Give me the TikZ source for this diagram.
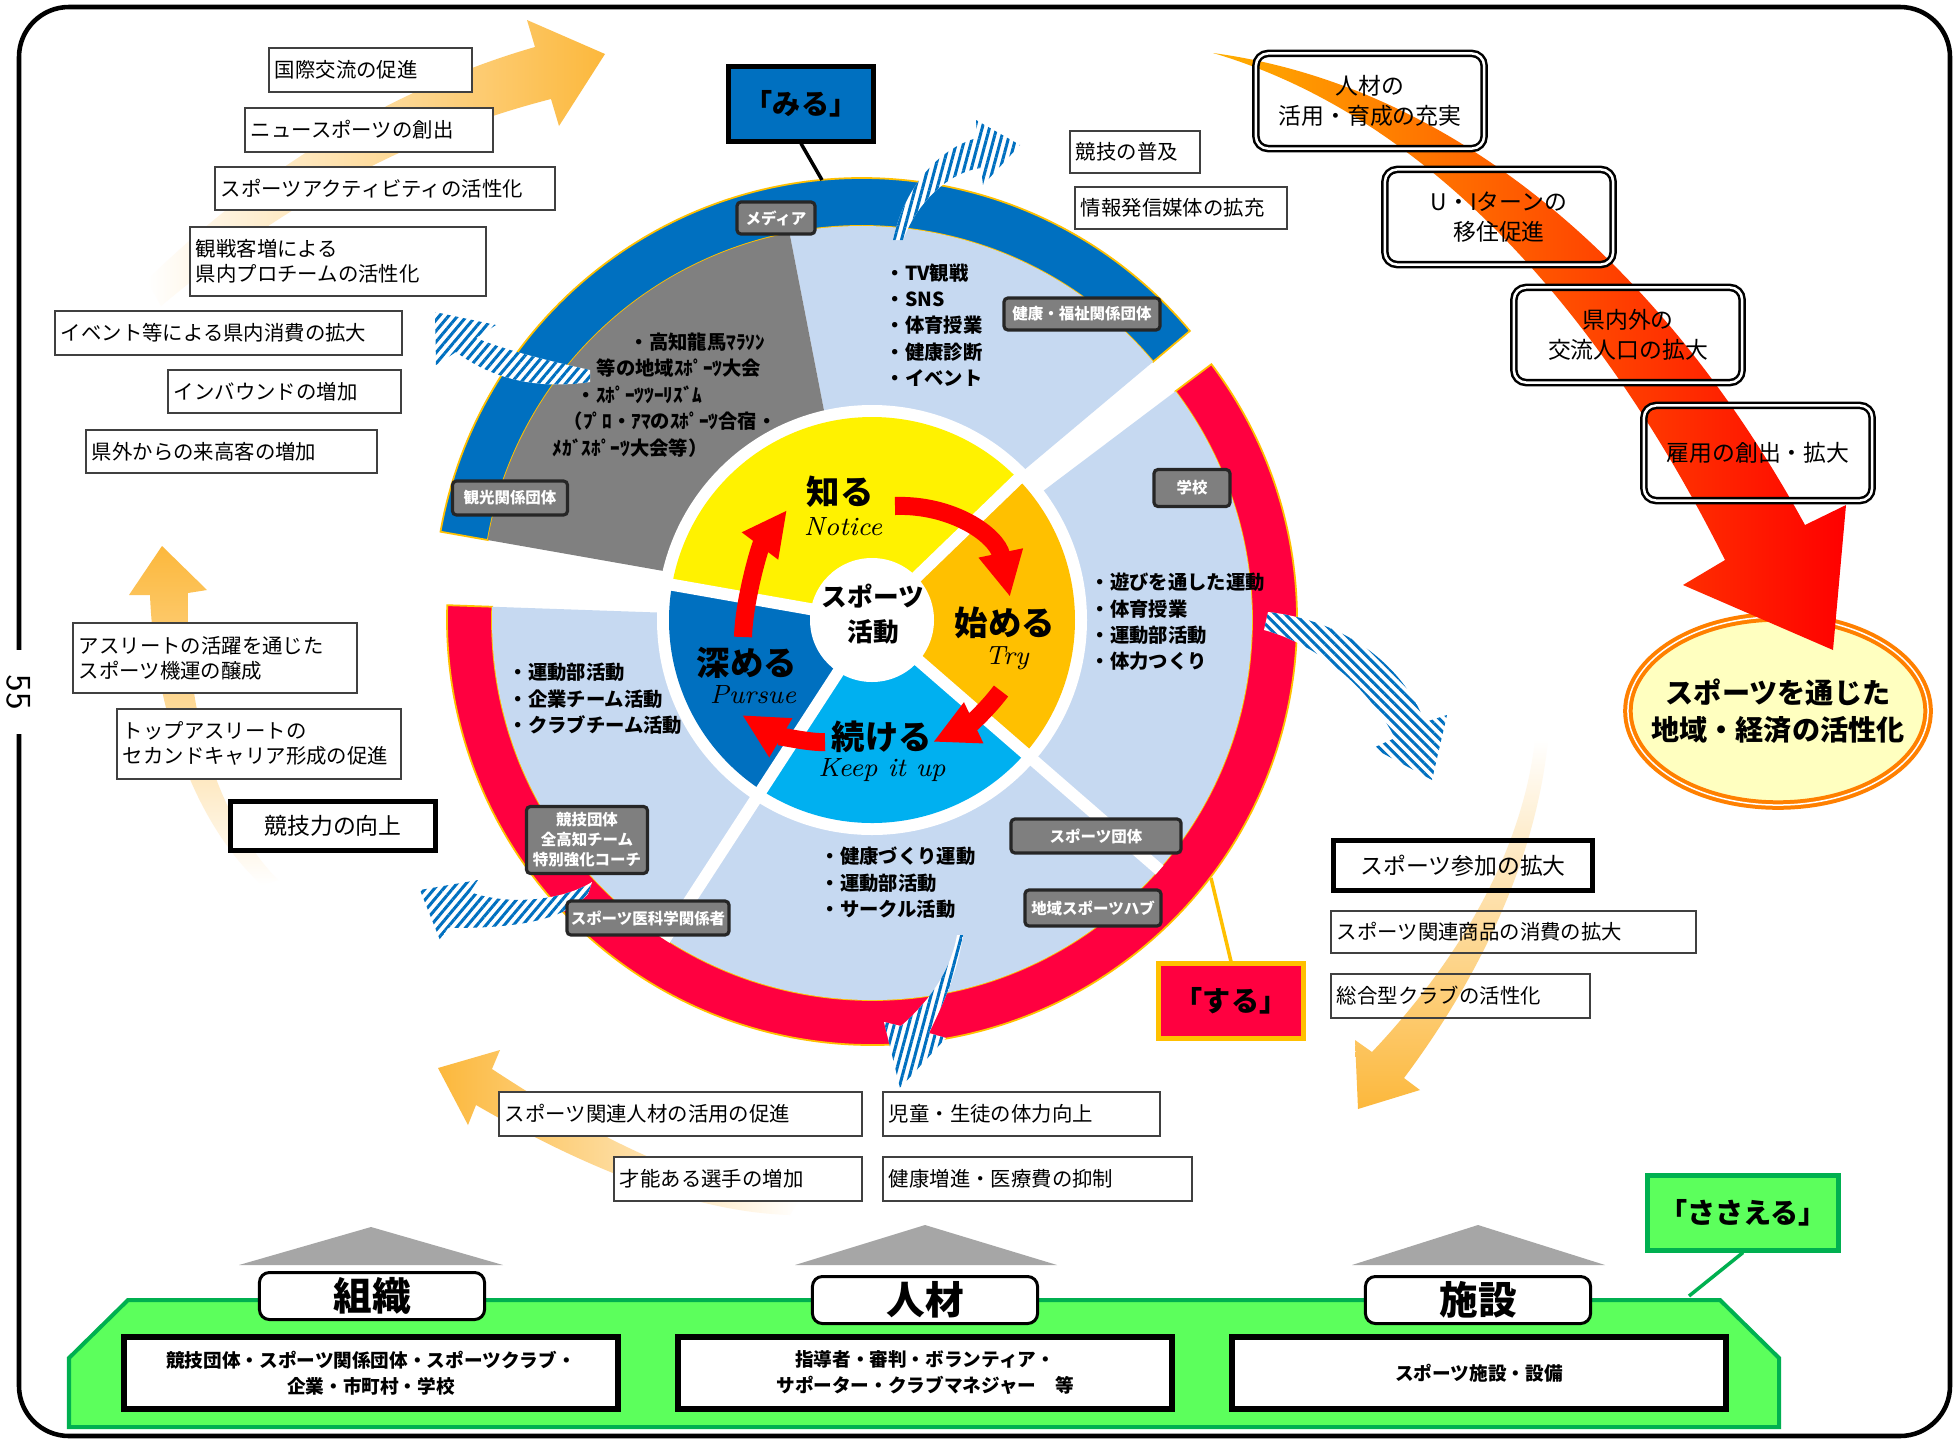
\documentclass[tikz,border=0pt]{standalone}
\usepackage{fontspec}
\newfontfamily\jp{Noto Sans CJK JP}
\usetikzlibrary{arrows.meta,positioning,shapes.geometric,patterns.meta}

\definecolor{miruBlue}{HTML}{0070C0}
\definecolor{paleBlue}{HTML}{C6D9F1}
\definecolor{suruRed}{HTML}{FF0040}
\definecolor{gold}{HTML}{FFC000}
\definecolor{skyCyan}{HTML}{00B0F0}
\definecolor{labelGray}{HTML}{7F7F7F}
\definecolor{roofGray}{HTML}{A6A6A6}
\definecolor{sasaeGreen}{HTML}{5CFF5C}
\definecolor{greenEdge}{HTML}{00B050}
\definecolor{fadeOrange}{HTML}{FCB83C}
\definecolor{arrowOrange}{HTML}{FFB000}
\definecolor{ellFill}{HTML}{FFFFC0}
\definecolor{ellEdge}{HTML}{FF8000}

% annular sector: options, start angle, end angle, inner r, outer r
\newcommand{\ringseg}[5]{%
  \path[#1] (#2:#5) arc[start angle=#2,end angle=#3,radius=#5]
    -- (#3:#4) arc[start angle=#3,end angle=#2,radius=#4] -- cycle;}

\tikzset{
  infobox/.style={draw=black!75,fill=white,line width=0.5pt,anchor=north west,
    inner xsep=0.06cm,inner ysep=0pt,align=left,
    font=\jp\fontsize{5.8}{7.1}\selectfont},
  clearbox/.style={infobox,fill=none},
  keybox/.style={draw=black,fill=white,line width=0.05cm,anchor=north west,
    align=center,inner sep=0pt,font=\jp\fontsize{6.5}{8}\selectfont},
  tripbox/.style={draw=black,double=white,double distance=0.025cm,line width=0.025cm,
    rounded corners=0.12cm,align=center,minimum width=2.28cm,minimum height=0.95cm,
    inner sep=0pt,font=\jp\fontsize{6.5}{8.5}\selectfont},
  tagbox/.style={fill=labelGray,draw=black!85,line width=0.9pt,rounded corners=0.04cm,
    text=white,align=center,inner sep=0pt,minimum height=0.32cm,
    font=\jp\bfseries\fontsize{4.4}{5.7}\selectfont},
  sectortext/.style={anchor=west,align=left,inner sep=0pt,
    font=\jp\bfseries\fontsize{5.5}{7.5}\selectfont},
  stagetext/.style={inner sep=0pt,font=\jp\bfseries\fontsize{9.5}{10}\selectfont},
  stagesub/.style={inner sep=0pt,font=\itshape\fontsize{7.5}{8}\selectfont},
  cyclearrow/.style={red,line width=0.18cm,-{Triangle[length=0.45cm,width=0.42cm]}},
  stripe/.style={preaction={fill=white},
    pattern={Lines[angle=#1,distance=0.07cm,line width=0.03cm]},pattern color=miruBlue},
  rolebox/.style={line width=0.05cm,minimum height=0.74cm,inner sep=0pt,
    font=\jp\bfseries\fontsize{8}{9}\selectfont},
  pillarbox/.style={draw=black,fill=white,line width=0.03cm,rounded corners=0.1cm,
    minimum width=2.25cm,minimum height=0.47cm,inner sep=0pt,
    font=\jp\bfseries\fontsize{11}{12}\selectfont},
  basebox/.style={draw=black,fill=white,line width=0.06cm,minimum width=4.93cm,
    minimum height=0.72cm,align=center,inner sep=0pt,
    font=\jp\bfseries\fontsize{5.3}{7.4}\selectfont}
}

\begin{document}
\begin{tikzpicture}[x=0.01cm,y=0.01cm]
\useasboundingbox (0,0) rectangle (1954,-1439);
\fill[white] (0,0) rectangle (1954,-1439);

% frame and page number
\draw[line width=1.3pt,rounded corners=0.5cm] (19,-7) rectangle (1950,-1436);
\node[rotate=-90,fill=white,inner xsep=0.24cm,inner ysep=0.04cm,
  font=\sffamily\fontsize{10}{10}\selectfont] (pageno) at (19,-692) {55};

% faded orange arrows
\shade[left color=white,right color=fadeOrange] (147,-280) .. controls (280,-150) and (420,-80) .. (535,-47)
  -- (527,-20) -- (605,-54) -- (559,-126) -- (551,-99) .. controls (430,-130) and (300,-190) .. (161,-306) -- cycle;
\shade[top color=fadeOrange,bottom color=white] (150,-595) -- (129,-595) -- (162,-546) -- (207,-590) -- (188,-593)
  .. controls (185,-720) and (220,-820) .. (278,-880) -- (262,-885) .. controls (200,-830) and (155,-720) .. (150,-595) -- cycle;
\shade[left color=fadeOrange,right color=white] (492,-1069) .. controls (600,-1140) and (700,-1190) .. (800,-1198)
  -- (790,-1215) .. controls (690,-1212) and (580,-1165) .. (476,-1105) -- (468,-1125) -- (438,-1068) -- (500,-1050) -- cycle;
\shade[top color=white,bottom color=fadeOrange] (1535,-740) .. controls (1520,-870) and (1440,-980) .. (1372,-1052)
  -- (1355,-1040) -- (1358,-1109) -- (1420,-1090) -- (1404,-1078) .. controls (1470,-990) and (1535,-870) .. (1548,-740) -- cycle;

% goal ellipse and red arrow
\node[ellipse,draw=ellEdge,double=white,double distance=0.015cm,line width=0.04cm,fill=ellFill,
  minimum width=3.0cm,minimum height=1.88cm,inner sep=0pt] (goalShape) at (1778,-711) {};
\node[align=center,inner sep=0pt,font=\jp\bfseries\fontsize{8}{10.6}\selectfont]
  (goal) at (goalShape.center) {スポーツを通じた\\地域・経済の活性化};
\shade[left color=arrowOrange,middle color=red,right color=red] (1213,-53) .. controls (1450,-85) and (1660,-260) .. (1805,-525)
  -- (1846,-505) -- (1833,-650) -- (1683,-585) -- (1725,-560) .. controls (1610,-330) and (1440,-120) .. (1213,-53) -- cycle;
\node[tripbox] (talent) at (1370,-101) {人材の\\活用・育成の充実};
\node[tripbox] (uiturn) at (1499,-217) {U・Iターンの\\移住促進};
\node[tripbox] (exchange) at (1628,-335) {県内外の\\交流人口の拡大};
\node[tripbox] (jobs) at (1758,-453) {雇用の創出・拡大};

% the wheel
\begin{scope}[shift={(872,-620)}]
  % する
  \ringseg{fill=suruRed,draw=gold,line width=0.5pt}{37}{-182}{380}{425}
  \ringseg{fill=paleBlue}{37}{-182}{100}{380}
  \draw[white,line width=0.12cm] (-41:200) -- (-41:381) (-123:200) -- (-123:381);
  % みる
  \begin{scope}[shift={(-10,14)}]
    \ringseg{fill=miruBlue,draw=gold,line width=0.5pt}{40}{170}{380}{428}
    \ringseg{fill=paleBlue}{40}{101}{100}{380}
    \ringseg{fill=gray}{101}{170}{100}{380}
  \end{scope}
  \fill[white] (0,0) circle[radius=215];
  % inner cycle
  \ringseg{fill=yellow}{44}{170}{30}{203}
  \ringseg{fill=gold}{-41}{44}{30}{203}
  \ringseg{fill=skyCyan}{-123}{-41}{30}{203}
  \ringseg{fill=miruBlue}{170}{237}{30}{203}
  \draw[white,line width=0.12cm] (0,0) -- (44:205) (0,0) -- (170:205)
    (0,0) -- (-41:205) (0,0) -- (-123:205);
  \fill[white] (0,0) circle[radius=62];
  \draw[cyclearrow] (23,114) .. controls (80,116) and (125,85) .. (138,23);
  \draw[cyclearrow] (129,-71) .. controls (114,-91) and (97,-105) .. (61,-122);
  \draw[cyclearrow] (-47,-122) .. controls (-62,-123) and (-96,-115) .. (-130,-95);
  \draw[cyclearrow] (-129,-17) .. controls (-128,20) and (-112,74) .. (-85,110);
\end{scope}

\node[inner sep=0pt,align=center,font=\jp\bfseries\fontsize{7.3}{10}\selectfont] (hub) at (873,-614) {スポーツ\\活動};
\node[stagetext] (know) at (840,-492) {知る};
\node[stagesub] (knowEn) at (843,-527) {Notice};
\node[stagetext] (start) at (1005,-623) {始める};
\node[stagesub] (startEn) at (1007,-658) {Try};
\node[stagetext] (keep) at (882,-737) {続ける};
\node[stagesub] (keepEn) at (882,-770) {Keep it up};
\node[stagetext] (deepen) at (747,-663) {深める};
\node[stagesub] (deepenEn) at (753,-695) {Pursue};

% sector texts
\node[sectortext] (listWatch) at (885,-325) {・TV観戦\\・SNS\\・体育授業\\・健康診断\\・イベント};
\node[sectortext] (listEvents) at (552,-395) {\hspace*{0.77cm}・高知龍馬ﾏﾗｿﾝ\\\hspace*{0.44cm}等の地域ｽﾎﾟｰﾂ大会\\\hspace*{0.24cm}・ｽﾎﾟｰﾂﾂｰﾘｽﾞﾑ\\\hspace*{0.11cm}（ﾌﾟﾛ・ｱﾏのｽﾎﾟｰﾂ合宿・\\ﾒｶﾞｽﾎﾟｰﾂ大会等）};
\node[sectortext] (listPlay) at (1090,-622) {・遊びを通した運動\\・体育授業\\・運動部活動\\・体力つくり};
\node[sectortext] (listLife) at (820,-883) {・健康づくり運動\\・運動部活動\\・サークル活動};
\node[sectortext] (listTeam) at (508,-699) {・運動部活動\\・企業チーム活動\\・クラブチーム活動};

% striped arrows
\path[stripe=75] (893,-240) .. controls (905,-185) and (940,-148) .. (977,-138) -- (976,-120) -- (1020,-145)
  -- (983,-185) -- (981,-168) .. controls (950,-172) and (918,-200) .. (903,-240) -- cycle;
\path[stripe=50] (590,-370) .. controls (545,-360) and (505,-350) .. (476,-338) -- (496,-325) -- (435,-312)
  -- (436,-365) -- (456,-352) .. controls (500,-385) and (550,-388) .. (590,-382) -- cycle;
\path[stripe=-45] (1268,-612) .. controls (1340,-620) and (1400,-660) .. (1425,-722) -- (1447,-715) -- (1432,-780)
  -- (1373,-748) -- (1395,-738) .. controls (1370,-690) and (1320,-645) .. (1264,-630) -- cycle;
\path[stripe=75] (957,-935) .. controls (950,-975) and (925,-1005) .. (901,-1026) -- (884,-1022) -- (900,-1088)
  -- (946,-1038) -- (929,-1033) .. controls (945,-1000) and (958,-970) .. (963,-935) -- cycle;
\path[stripe=50] (592,-882) .. controls (560,-902) and (505,-905) .. (470,-892) -- (478,-880) -- (420,-890)
  -- (440,-940) -- (448,-928) .. controls (500,-928) and (560,-925) .. (588,-894) -- cycle;

% stakeholder tags
\node[tagbox,minimum width=0.78cm] (tagMedia) at (776,-218) {メディア};
\node[tagbox,minimum width=1.56cm] (tagHealth) at (1082,-314) {健康・福祉関係団体};
\node[tagbox,minimum width=1.15cm,minimum height=0.34cm] (tagTourism) at (510,-498) {観光関係団体};
\node[tagbox,minimum width=0.76cm,minimum height=0.37cm] (tagSchool) at (1192,-488) {学校};
\node[tagbox,minimum width=1.7cm,minimum height=0.34cm] (tagSportsOrg) at (1096,-836) {スポーツ団体};
\node[tagbox,minimum width=1.36cm,minimum height=0.36cm] (tagHub) at (1093,-908) {地域スポーツハブ};
\node[tagbox,minimum width=1.21cm,minimum height=0.67cm] (tagCoach) at (587,-840) {競技団体\\全高知チーム\\特別強化コーチ};
\node[tagbox,minimum width=1.62cm,minimum height=0.34cm] (tagMedical) at (648,-918) {スポーツ医科学関係者};

% みる / する labels
\node[rolebox,fill=miruBlue,draw=black,minimum width=1.45cm] (miru) at (801,-104) {「みる」};
\coordinate (miruFoot) at (822,-180);
\draw[line width=1pt] (miru.south) -- (miruFoot);
\node[rolebox,fill=suruRed,draw=gold,minimum width=1.45cm] (suru) at (1231,-1001) {「する」};
\coordinate (suruFoot) at (1211,-878);
\draw[gold,line width=1pt] (suru.north) -- (suruFoot);

% outcome boxes
\node[infobox,text width=1.91cm,minimum height=0.44cm] (intl) at (268,-47) {国際交流の促進};
\node[infobox,text width=2.36cm,minimum height=0.44cm] (newSport) at (244,-107) {ニュースポーツの創出};
\node[infobox,text width=3.28cm,minimum height=0.43cm] (activity) at (214,-166) {スポーツアクティビティの活性化};
\node[infobox,text width=2.84cm,minimum height=0.69cm] (proTeam) at (189,-226) {観戦客増による\\県内プロチームの活性化};
\node[infobox,text width=3.35cm,minimum height=0.44cm] (spend) at (54,-310) {イベント等による県内消費の拡大};
\node[infobox,text width=2.21cm,minimum height=0.43cm] (inbound) at (167,-369) {インバウンドの増加};
\node[infobox,text width=2.79cm,minimum height=0.43cm] (visitors) at (85,-429) {県外からの来高客の増加};
\node[infobox,text width=2.72cm,minimum height=0.70cm] (mood) at (72,-622) {アスリートの活躍を通じた\\スポーツ機運の醸成};
\node[infobox,text width=2.72cm,minimum height=0.70cm] (career) at (116,-708) {トップアスリートの\\セカンドキャリア形成の促進};
\node[keybox,minimum width=2.05cm,minimum height=0.49cm] (compete) at (228,-799) {競技力の向上};
\node[infobox,text width=1.18cm,minimum height=0.42cm] (spread) at (1069,-130) {競技の普及};
\node[infobox,text width=2.00cm,minimum height=0.42cm] (media) at (1074,-186) {情報発信媒体の拡充};
\node[keybox,fill=none,minimum width=2.59cm,minimum height=0.50cm] (join) at (1331,-838) {スポーツ参加の拡大};
\node[clearbox,text width=3.53cm,minimum height=0.42cm] (goods) at (1330,-910) {スポーツ関連商品の消費の拡大};
\node[clearbox,text width=2.47cm,minimum height=0.44cm] (club) at (1330,-973) {総合型クラブの活性化};
\node[infobox,text width=3.51cm,minimum height=0.44cm] (staff) at (498,-1091) {スポーツ関連人材の活用の促進};
\node[infobox,text width=2.65cm,minimum height=0.44cm] (fitness) at (882,-1091) {児童・生徒の体力向上};
\node[infobox,text width=2.36cm,minimum height=0.44cm] (talentUp) at (613,-1156) {才能ある選手の増加};
\node[infobox,text width=2.97cm,minimum height=0.44cm] (health) at (882,-1156) {健康増進・医療費の抑制};

% ささえる base
\draw[fill=sasaeGreen,draw=greenEdge,line width=0.04cm] (69,-1358) -- (128,-1300) -- (1720,-1300)
  -- (1779,-1358) -- (1779,-1427) -- (69,-1427) -- cycle;
\fill[roofGray] (239,-1265) -- (371,-1227) -- (503,-1265) -- cycle;
\fill[roofGray] (795,-1265) -- (925,-1225) -- (1057,-1265) -- cycle;
\fill[roofGray] (1352,-1265) -- (1478,-1225) -- (1605,-1265) -- cycle;
\node[pillarbox] (org) at (372,-1296) {組織};
\node[pillarbox] (people) at (925,-1300) {人材};
\node[pillarbox] (venue) at (1478,-1300) {施設};
\node[basebox] (orgList) at (371,-1373) {競技団体・スポーツ関係団体・スポーツクラブ・\\企業・市町村・学校};
\node[basebox] (peopleList) at (925,-1373) {指導者・審判・ボランティア・\\サポーター・クラブマネジャー　等};
\node[basebox] (venueList) at (1479,-1373) {スポーツ施設・設備};
\node[rolebox,fill=sasaeGreen,draw=greenEdge,minimum width=1.90cm] (sasae) at (1743,-1213) {「ささえる」};
\coordinate (sasaeFoot) at (1689,-1296);
\draw[greenEdge,line width=1pt] (sasae.south) -- (sasaeFoot);
\end{tikzpicture}
\end{document}
